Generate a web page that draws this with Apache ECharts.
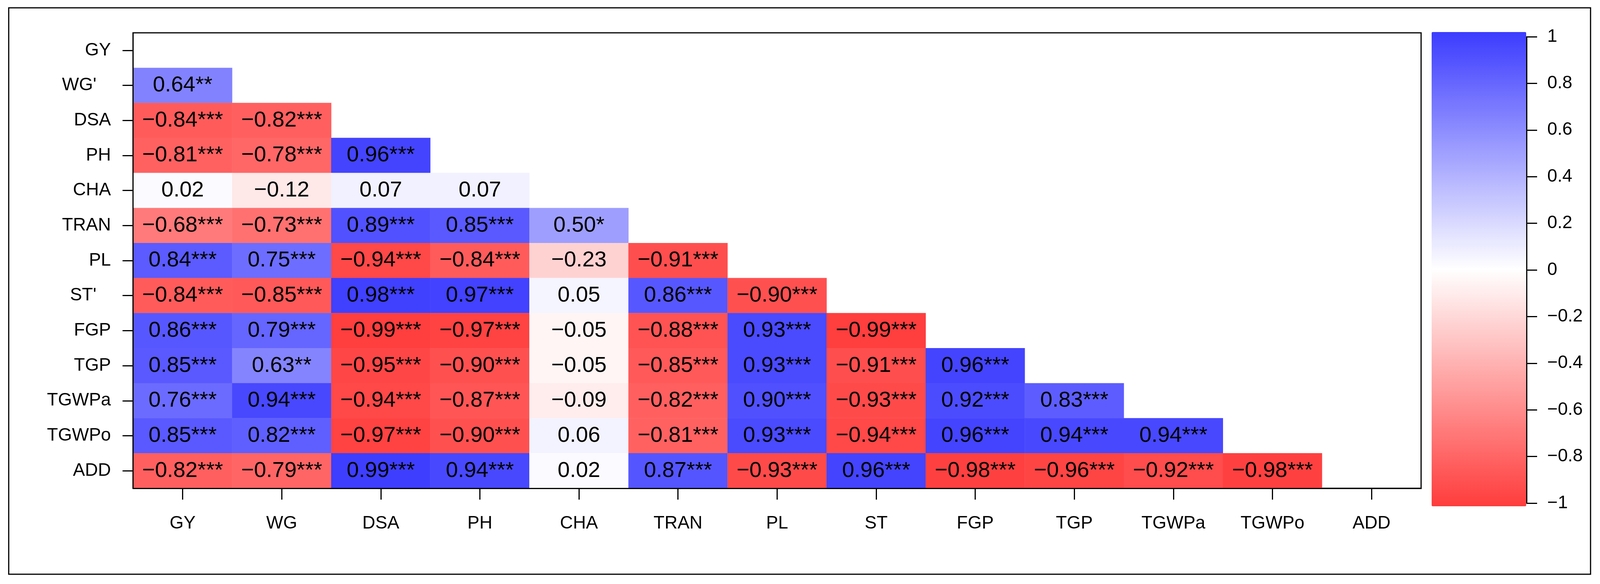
<!DOCTYPE html>
<html>
<head>
<meta charset="utf-8">
<script src="https://cdn.jsdelivr.net/npm/echarts@6/dist/echarts.min.js"></script>
<style>
html,body{margin:0;padding:0;background:#fff;overflow:hidden;}
#chart{height:1495px;}
</style>
</head>
<body>
<div id="chart"></div>
<script>
const xLabels = ['GY','WG','DSA','PH','CHA','TRAN','PL','ST','FGP','TGP','TGWPa','TGWPo','ADD'];
const yLabels = ['GY',"WG'",'DSA','PH','CHA','TRAN','PL',"ST'",'FGP','TGP','TGWPa','TGWPo','ADD'];

// lower triangle correlations, row i holds columns 0..i-1
const corr = [
  [],
  [0.64],
  [-0.84,-0.82],
  [-0.81,-0.78,0.96],
  [0.02,-0.12,0.07,0.07],
  [-0.68,-0.73,0.89,0.85,0.50],
  [0.84,0.75,-0.94,-0.84,-0.23,-0.91],
  [-0.84,-0.85,0.98,0.97,0.05,0.86,-0.90],
  [0.86,0.79,-0.99,-0.97,-0.05,-0.88,0.93,-0.99],
  [0.85,0.63,-0.95,-0.90,-0.05,-0.85,0.93,-0.91,0.96],
  [0.76,0.94,-0.94,-0.87,-0.09,-0.82,0.90,-0.93,0.92,0.83],
  [0.85,0.82,-0.97,-0.90,0.06,-0.81,0.93,-0.94,0.96,0.94,0.94],
  [-0.82,-0.79,0.99,0.94,0.02,0.87,-0.93,0.96,-0.98,-0.96,-0.92,-0.98]
];
const sig = [
  [],
  ['**'],
  ['***','***'],
  ['***','***','***'],
  ['','','',''],
  ['***','***','***','***','*'],
  ['***','***','***','***','','***'],
  ['***','***','***','***','','***','***'],
  ['***','***','***','***','','***','***','***'],
  ['***','**','***','***','','***','***','***','***'],
  ['***','***','***','***','','***','***','***','***','***'],
  ['***','***','***','***','','***','***','***','***','***','***'],
  ['***','***','***','***','','***','***','***','***','***','***','***']
];
const barTicks = {min:-1, max:1, interval:0.2};

const cells = [];
corr.forEach((row, i) => row.forEach((v, j) => cells.push({value:[j, i, v], stars: sig[i][j]})));

const FONT = "'Liberation Sans', Arial, sans-serif";
const W = window.innerWidth || 4400;
const sx = W / 4400;
const X = v => Math.round(v * sx * 10) / 10;
const el = document.getElementById('chart');
el.style.width = W + 'px';
const chart = echarts.init(el);

function fmtNum(v){
  return (v < 0 ? '\u2212' : '') + Math.abs(v).toFixed(2);
}

const yPad = {"WG'": 1, "ST'": 1};

const option = {
  backgroundColor: '#fff',
  animation: false,
  textStyle: {fontFamily: FONT},
  graphic: [{
    type: 'rect', z: 100, silent: true,
    shape: {x: X(24), y: 20, width: X(4350), height: 1450},
    style: {fill: 'none', stroke: '#000', lineWidth: 3}
  }],
  grid: [
    {left: X(366), top: 84, width: X(3542), height: 1166, show: true, borderColor: '#000', borderWidth: 3, backgroundColor: 'transparent'},
    {left: X(3937), top: 94, width: X(261), height: 1194, show: false}
  ],
  xAxis: [
    {type: 'category', data: xLabels, gridIndex: 0, z: 10,
     axisLine: {show: true, lineStyle: {color: '#000', width: 3}},
     axisTick: {show: true, alignWithLabel: true, length: 29, lineStyle: {color: '#000', width: 3}},
     axisLabel: {fontSize: 46, color: '#000', fontFamily: FONT, margin: 67, interval: 0},
     splitLine: {show: false}},
    {type: 'category', data: [''], gridIndex: 1, show: false}
  ],
  yAxis: [
    {type: 'category', data: yLabels, gridIndex: 0, inverse: true, z: 10,
     axisLine: {show: true, lineStyle: {color: '#000', width: 3}},
     axisTick: {show: true, alignWithLabel: true, length: X(29), lineStyle: {color: '#000', width: 3}},
     axisLabel: {fontSize: 46, color: '#000', fontFamily: FONT, margin: X(61), interval: 0,
       formatter: v => yPad[v] ? '{p|' + v + '}' : v,
       rich: {p: {fontSize: 46, color: '#000', fontFamily: FONT, padding: [0, X(40), 0, 0]}}},
     splitLine: {show: false}},
    {type: 'value', gridIndex: 1, position: 'right', min: barTicks.min, max: barTicks.max, interval: barTicks.interval,
     axisLine: {show: true, lineStyle: {color: '#000', width: 3}},
     axisTick: {show: true, length: X(29), lineStyle: {color: '#000', width: 3}},
     axisLabel: {fontSize: 46, color: '#000', fontFamily: FONT, margin: X(57), align: 'left',
       formatter: v => { const r = Math.round(v * 10) / 10; return (r < 0 ? '\u2212' : '') + String(Math.abs(r)); }},
     splitLine: {show: false}}
  ],
  visualMap: {
    type: 'continuous', seriesIndex: 0, min: -1, max: 1,
    calculable: false, hoverLink: false, realtime: false,
    orient: 'vertical', left: X(3937), top: 82, padding: 0,
    itemWidth: X(260), itemHeight: 1214,
    inRange: {color: ['#FF3C3C', '#FFFFFF', '#3C3CFF']}
  },
  series: [
    {type: 'heatmap', xAxisIndex: 0, yAxisIndex: 0, data: cells,
     emphasis: {disabled: true},
     label: {show: true, fontSize: 56, color: '#000', fontFamily: FONT,
       formatter: p => fmtNum(p.value[2]) + p.data.stars}},
    {type: 'line', xAxisIndex: 1, yAxisIndex: 1, data: [], silent: true}
  ]
};
chart.setOption(option);
</script>
</body>
</html>
